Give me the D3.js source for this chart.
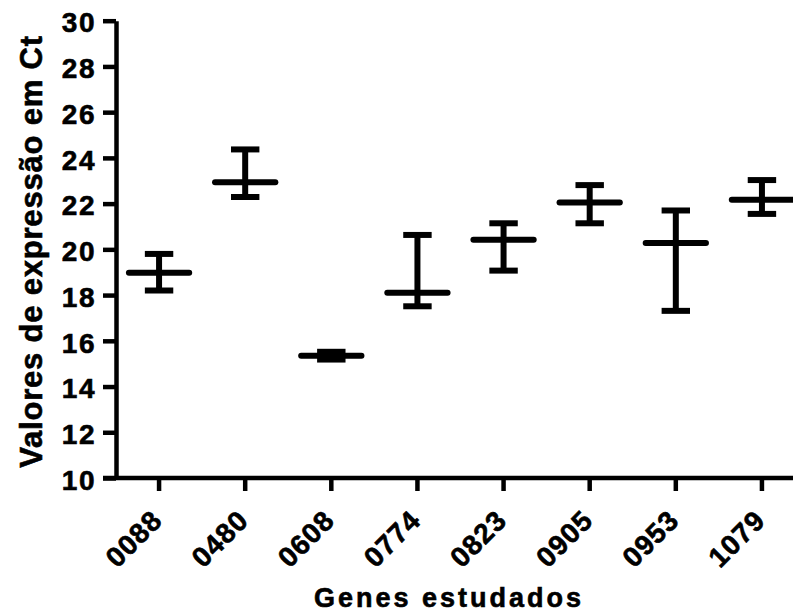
<!DOCTYPE html>
<html>
<head>
<meta charset="utf-8">
<script src="https://cdn.jsdelivr.net/npm/d3@7"></script>
<style>
  body { margin: 0; background: #fff; }
  text { font-family: "Liberation Sans", Arial, sans-serif; font-weight: bold; fill: #000; stroke: #000; stroke-width: 0.6px; }
</style>
</head>
<body>
<div id="chart"></div>
<script>
// genes and Ct values (mean, upper and lower end of the error bar)
const genes = ["0088", "0480", "0608", "0774", "0823", "0905", "0953", "1079"];
const means = [18.98, 22.94, 15.35, 18.10, 20.42, 22.05, 20.28, 22.17];
const upper = [19.80, 24.37, 15.52, 20.63, 21.14, 22.81, 21.70, 23.03];
const lower = [18.20, 22.29, 15.18, 17.51, 19.07, 21.14, 17.31, 21.55];
const yTicks = [10, 12, 14, 16, 18, 20, 22, 24, 26, 28, 30];

const width = 793, height = 615;

const svg = d3.select("#chart")
    .append("svg")
    .attr("width", width)
    .attr("height", height);

const x = d3.scaleBand()
    .domain(genes)
    .range([116, 805]);

const y = d3.scaleLinear()
    .domain([10, 30])
    .range([478, 20.7]);

const cx = d => x(d) + x.bandwidth() / 2;

// y axis
const yAxis = d3.axisLeft(y)
    .tickValues(yTicks)
    .tickSize(13)
    .tickSizeOuter(0)
    .tickPadding(7);

const gy = svg.append("g")
    .attr("transform", "translate(116,0)")
    .call(yAxis);
gy.select(".domain").attr("stroke", "#000").attr("stroke-width", 4.5);
gy.selectAll(".tick line").attr("stroke", "#000").attr("stroke-width", 4.5);
gy.selectAll(".tick text")
    .attr("font-size", 28)
    .attr("letter-spacing", 1.5)
    .attr("font-family", "Liberation Sans, Arial, sans-serif")
    .attr("font-weight", "bold")
    .attr("dy", "0.4em");

// x axis
const xAxis = d3.axisBottom(x)
    .tickSize(13)
    .tickSizeOuter(0)
    .tickFormat("");

const gx = svg.append("g")
    .attr("transform", "translate(0,478)")
    .call(xAxis);
gx.select(".domain").remove();
gx.selectAll(".tick line").attr("stroke", "#000").attr("stroke-width", 4.5);

svg.append("line")
    .attr("x1", 103)
    .attr("x2", x.range()[1])
    .attr("y1", 478)
    .attr("y2", 478)
    .attr("stroke", "#000")
    .attr("stroke-width", 4.5);

svg.append("g")
    .selectAll("text")
    .data(genes)
    .join("text")
    .attr("transform", d => "translate(" + (cx(d) + 5) + ",522) rotate(-45)")
    .attr("text-anchor", "end")
    .attr("font-size", 28)
    .attr("letter-spacing", 1)
    .text(d => d);

// error bars
const bars = svg.append("g")
    .selectAll("g")
    .data(genes.map((g, i) => ({gene: g, mean: means[i], hi: upper[i], lo: lower[i]})))
    .join("g");

const capW = x.bandwidth() * 0.33;
const meanW = x.bandwidth() * 0.70;

bars.append("line")
    .attr("x1", d => cx(d.gene))
    .attr("x2", d => cx(d.gene))
    .attr("y1", d => y(d.hi))
    .attr("y2", d => y(d.lo))
    .attr("stroke", "#000")
    .attr("stroke-width", 6);

bars.selectAll(".cap")
    .data(d => [{gene: d.gene, v: d.hi}, {gene: d.gene, v: d.lo}])
    .join("line")
    .attr("class", "cap")
    .attr("x1", d => cx(d.gene) - capW / 2)
    .attr("x2", d => cx(d.gene) + capW / 2)
    .attr("y1", d => y(d.v))
    .attr("y2", d => y(d.v))
    .attr("stroke", "#000")
    .attr("stroke-width", 6);

bars.append("line")
    .attr("x1", d => cx(d.gene) - meanW / 2)
    .attr("x2", d => cx(d.gene) + meanW / 2)
    .attr("y1", d => y(d.mean))
    .attr("y2", d => y(d.mean))
    .attr("stroke", "#000")
    .attr("stroke-width", 6)
    .attr("stroke-linecap", "round");

// axis titles
svg.append("text")
    .attr("transform", "translate(41.5,251.5) rotate(-90)")
    .attr("text-anchor", "middle")
    .attr("font-size", 31)
    .attr("letter-spacing", 0.8)
    .text("Valores de expressão em Ct");

svg.append("text")
    .attr("x", 449)
    .attr("y", 607)
    .attr("text-anchor", "middle")
    .attr("font-size", 27)
    .attr("letter-spacing", 3)
    .text("Genes estudados");
</script>
</body>
</html>
